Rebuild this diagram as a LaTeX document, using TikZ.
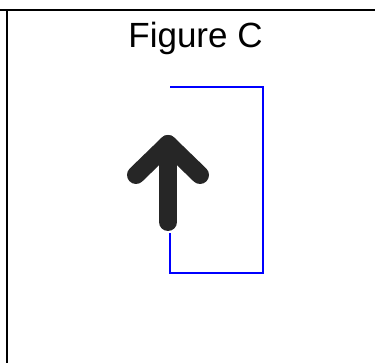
\documentclass[tikz,border=0pt]{standalone}
\usepackage{fontspec}
\setmainfont{Liberation Sans}

\tikzset{
  frameline/.style={line width=2pt},
  arrowstroke/.style={line width=18pt,line cap=round,line join=round,draw=black!85},
  blueline/.style={draw=blue,line width=1.2pt}
}

\begin{document}
\begin{tikzpicture}[x=1pt,y=-1pt]
        \useasboundingbox (0,0) rectangle (375,363);
        \draw[frameline] (0,10) -- (375,10);
        \draw[frameline] (7,10) -- (7,363);
        \node[anchor=base,font=\fontsize{35}{40}\selectfont,inner sep=0pt] (title) at (195.5,48) {Figure C};
        % the up arrow
        \draw[arrowstroke] (136,175) -- (168,144) -- (200,175);
        \draw[arrowstroke] (168,144) -- (168,222);
        \coordinate (entry) at (170,87);
        \coordinate (foot) at (170,233);
        \draw[blueline] (entry) -| (263,273) -| (foot);
    \end{tikzpicture}
\end{document}
